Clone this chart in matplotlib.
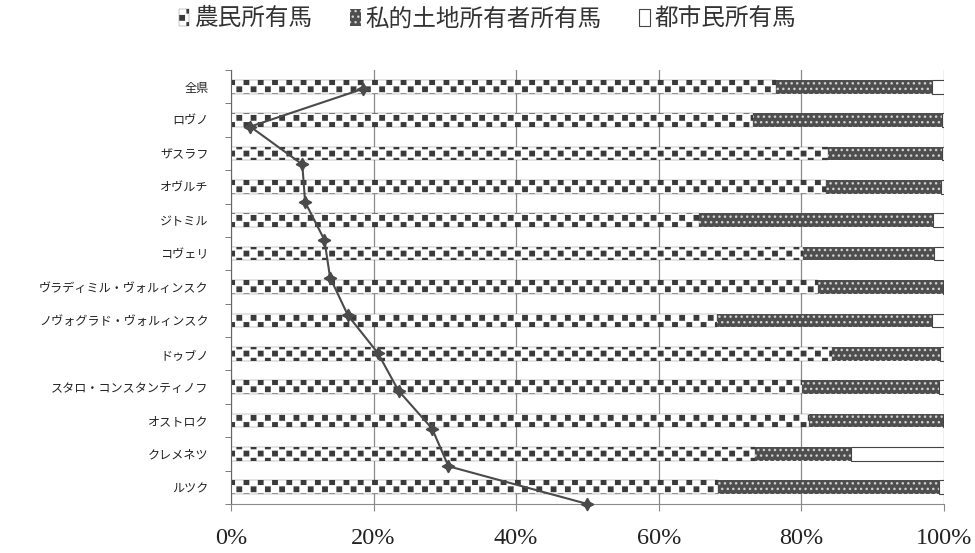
import warnings
import numpy as np
import matplotlib
matplotlib.use("Agg")
import matplotlib.pyplot as plt
import matplotlib.hatch as mhatch
from matplotlib.path import Path
from matplotlib.patches import Patch

warnings.filterwarnings("ignore")

# data (percent of horses by owner type)
districts = [
    "全県", "ロヴノ", "ザスラフ", "オヴルチ", "ジトミル", "コヴェリ",
    "ヴラディミル・ヴォルィンスク", "ノヴォグラド・ヴォルィンスク", "ドゥブノ",
    "スタロ・コンスタンティノフ", "オストロク", "クレメネツ", "ルツク",
]
peasant = [76.4, 73.2, 83.7, 83.5, 65.6, 80.2, 82.3, 68.2, 84.3, 80.1, 81.1, 73.5, 68.3]
landowner = [21.9, 26.5, 16.0, 16.1, 32.9, 18.4, 17.5, 30.1, 15.1, 19.2, 18.8, 13.5, 31.0]
urban = [1.7, 0.3, 0.3, 0.4, 1.5, 1.4, 0.2, 1.7, 0.6, 0.7, 0.1, 13.0, 0.7]

series_labels = ["農民所有馬", "私的土地所有者所有馬", "都市民所有馬"]
tick_labels = ["0%", "20%", "40%", "60%", "80%", "100%"]

# unlabeled line series drawn over the bars
line_values = [18.5, 2.7, 10.0, 10.4, 13.1, 13.9, 16.4, 20.6, 23.5, 28.2, 30.5, 50.0]


# checkerboard hatch ("c")
class CheckerHatch(mhatch.HatchPatternBase):
    def __init__(self, hatch, density):
        self.num_cells = hatch.count("c") * 14
        self.num_vertices = (self.num_cells * self.num_cells // 2) * 5

    def set_vertices_and_codes(self, vertices, codes):
        n = self.num_cells
        step = 1.0 / n
        half = step * 0.31
        verts = []
        for row in range(n):
            for col in range(n):
                if (row + col) % 2 == 0:
                    cx = (col + 0.5) * step
                    cy = (row + 0.5) * step
                    verts.append([[cx - half, cy - half], [cx + half, cy - half],
                                  [cx + half, cy + half], [cx - half, cy + half],
                                  [cx - half, cy - half]])
        vertices[:] = np.array(verts).reshape(-1, 2)
        codes[:] = np.tile([Path.MOVETO, Path.LINETO, Path.LINETO,
                            Path.LINETO, Path.CLOSEPOLY], len(verts))


mhatch._hatch_types.append(CheckerHatch)

plt.rcParams["font.family"] = ["Noto Sans CJK JP", "DejaVu Sans"]
plt.rcParams["hatch.linewidth"] = 1.0

fig = plt.figure(figsize=(9.75, 5.53), dpi=100)
ax = fig.add_axes([0.2369, 0.0886, 0.7313, 0.7848])

y = np.arange(len(districts))
h = 0.41
peasant = np.array(peasant)
landowner = np.array(landowner)

ax.barh(y, peasant, height=h, color="white", edgecolor="#3a3a3a",
        hatch="c", linewidth=0.2, zorder=2)
ax.barh(y, landowner, left=peasant, height=h, color="#4e4e4e",
        edgecolor="#d0d0d0", hatch="...", linewidth=0, zorder=2)
ax.barh(y, urban, left=peasant + landowner, height=h, color="white",
        edgecolor="#444444", linewidth=0.8, zorder=2)

ax.set_xlim(0, 100)
ax.set_ylim(len(districts) - 0.5, -0.5)
ax.set_xticks([0, 20, 40, 60, 80, 100])
ax.set_xticklabels(tick_labels, fontfamily="Liberation Serif", fontsize=17.5,
                   color="#222222")
ax.set_yticks(y)
ax.set_yticklabels(districts, fontsize=8.7, color="#222222")
ax.set_yticks(np.arange(len(districts) + 1) - 0.5, minor=True)
ax.tick_params(axis="y", which="major", length=0, pad=16)
ax.tick_params(axis="y", which="minor", length=4, color="#666666")
ax.tick_params(axis="x", length=5, color="#888888", pad=12)

ax.grid(axis="x", color="#8a8a8a", linewidth=0.9)
ax.set_axisbelow(True)
for side in ["top", "right"]:
    ax.spines[side].set_visible(False)
ax.spines["left"].set_color("#666666")
ax.spines["bottom"].set_color("#8a8a8a")

# secondary axis for the line
ax2 = ax.twinx()
ax2.plot(line_values, np.arange(len(line_values)), color="#4a4a4a",
         linewidth=1.5, marker=(4, 1, 0), markersize=9, clip_on=False)
ax2.set_ylim(len(line_values) - 1, -0.5)
ax2.set_yticks([])
for side in ax2.spines:
    ax2.spines[side].set_visible(False)

handles = [
    Patch(facecolor="white", edgecolor="#3a3a3a", hatch="c", linewidth=0.2),
    Patch(facecolor="#4e4e4e", edgecolor="#d0d0d0", hatch="...", linewidth=0),
    Patch(facecolor="white", edgecolor="#444444", linewidth=0.8),
]
fig.legend(handles, series_labels, loc="upper center",
           bbox_to_anchor=(0.5, 1.025), ncol=3, frameon=False,
           fontsize=17, handlelength=0.45, handleheight=0.75,
           handletextpad=0.2, columnspacing=1.6, labelcolor="#333333")

fig.savefig("out.png", dpi=100)
plt.close(fig)
